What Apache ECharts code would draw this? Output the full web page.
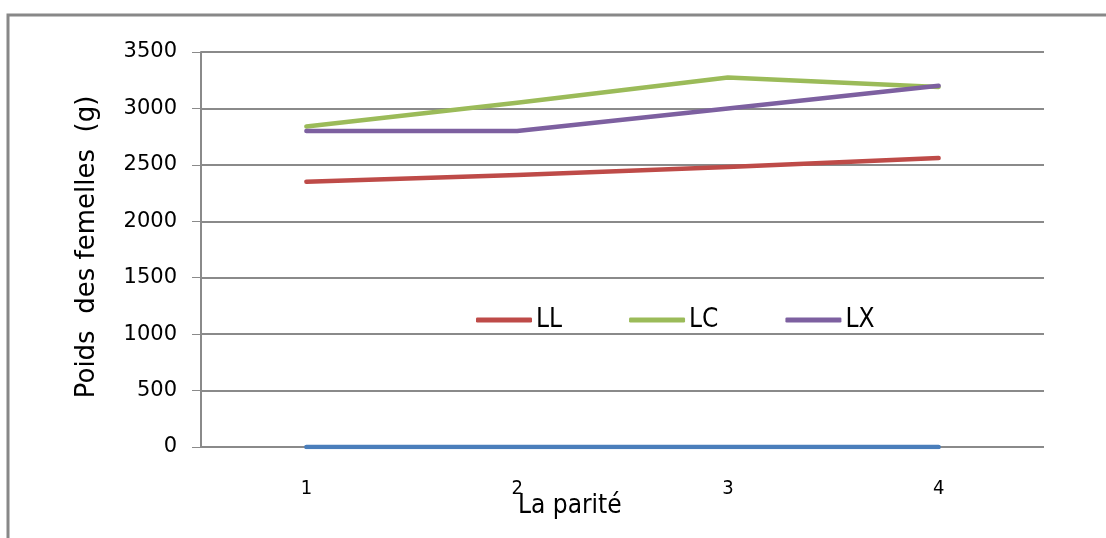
<!DOCTYPE html>
<html>
<head>
<meta charset="utf-8">
<script src="https://cdn.jsdelivr.net/npm/echarts@6/dist/echarts.min.js"></script>
<style>
  html, body { margin: 0; padding: 0; background: #fff; }
  #chart { width: 1106px; height: 538px; }
</style>
</head>
<body>
<div id="chart"></div>
<script>
// Parité (x) and female weight in grams (y) for each line
const parites = ['1', '2', '3', '4'];
const poidsLL = [2350, 2410, 2480, 2560];
const poidsLC = [2840, 3050, 3275, 3190];
const poidsLX = [2800, 2800, 3000, 3200];
const baseline = [0, 0, 0, 0];
const yTicks = { min: 0, max: 3500, interval: 500 };

const FONT = '"DejaVu Sans", sans-serif';
const NARROW = '"DejaVu Sans Condensed", "Liberation Sans", sans-serif';
const GRID_COLOR = '#8a8a8a';

function lineSeries(name, data, color) {
  return {
    name: name,
    type: 'line',
    data: data,
    showSymbol: false,
    symbol: 'none',
    lineStyle: { color: color, width: 4.5, cap: 'round', join: 'round' },
    itemStyle: { color: color },
    z: 3
  };
}

const chart = echarts.init(document.getElementById('chart'), null, { renderer: 'canvas' });
chart.setOption({
  animation: false,
  backgroundColor: '#ffffff',
  grid: { left: 201, right: 62, top: 52, bottom: 91, containLabel: false },
  legend: {
    data: ['LL', 'LC', 'LX'],
    left: 471,
    top: 302,
    icon: 'roundRect',
    itemWidth: 56,
    itemHeight: 5,
    itemGap: 67,
    textStyle: { fontFamily: NARROW, fontSize: 26, color: '#000', padding: [0, 0, 0, -1] }
  },
  xAxis: {
    type: 'category',
    data: parites,
    boundaryGap: true,
    axisLine: { show: false },
    axisTick: { show: false },
    axisLabel: { fontFamily: NARROW, fontSize: 20, color: '#000', margin: 32 },
    splitLine: { show: false }
  },
  yAxis: {
    type: 'value',
    min: yTicks.min,
    max: yTicks.max,
    interval: yTicks.interval,
    axisLine: { show: true, lineStyle: { color: GRID_COLOR, width: 2 } },
    axisTick: { show: true, inside: false, length: 9, lineStyle: { color: GRID_COLOR, width: 1 } },
    axisLabel: {
      fontFamily: FONT, fontSize: 21, color: '#000', margin: 24,
      formatter: function (v) { return String(v); }
    },
    splitLine: { show: true, lineStyle: { color: GRID_COLOR, width: 2 } }
  },
  graphic: [
    {
      type: 'rect',
      shape: { x: 8, y: 15, width: 1200, height: 600 },
      style: { fill: 'none', stroke: '#888888', lineWidth: 3 },
      z: -1
    },
    {
      type: 'text',
      x: 518,
      y: 506,
      style: {
        text: 'La parité',
        font: '26px "DejaVu Sans Condensed", "Liberation Sans", sans-serif',
        fill: '#000',
        align: 'left',
        verticalAlign: 'middle'
      }
    },
    {
      type: 'text',
      x: 87,
      y: 247,
      rotation: Math.PI / 2,
      style: {
        text: 'Poids  des femelles  (g)',
        font: '26px "DejaVu Sans", sans-serif',
        fill: '#000',
        align: 'center',
        verticalAlign: 'middle'
      }
    }
  ],
  series: [
    {
      name: 'base',
      type: 'line',
      data: baseline,
      showSymbol: false,
      symbol: 'none',
      lineStyle: { color: '#4A7EBB', width: 4.5, cap: 'round' },
      itemStyle: { color: '#4A7EBB' },
      z: 2
    },
    lineSeries('LL', poidsLL, '#BE4B48'),
    lineSeries('LC', poidsLC, '#9BBB59'),
    lineSeries('LX', poidsLX, '#7D60A0')
  ]
});
</script>
</body>
</html>
